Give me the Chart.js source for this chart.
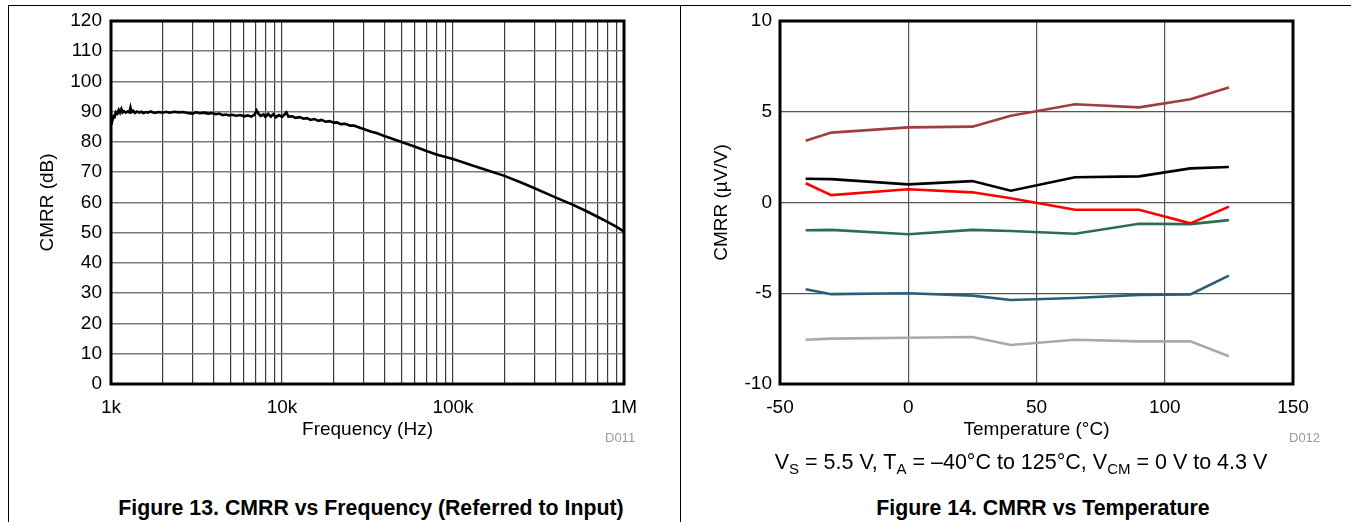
<!DOCTYPE html>
<html>
<head>
<meta charset="utf-8">
<script src="https://cdn.jsdelivr.net/npm/chart.js@4.4.1/dist/chart.umd.min.js"></script>
<style>
  html,body{margin:0;padding:0;background:#fff;}
  body{width:1351px;height:522px;position:relative;overflow:hidden;font-family:"Liberation Sans",Arial,sans-serif;}
  canvas{position:absolute;top:0;}
  .line{position:absolute;background:#000;}
  .txt{position:absolute;white-space:nowrap;color:#000;line-height:1;}
  .code{font-size:13px;color:#9a9a9a;}
  .cap{font-size:21.3px;font-weight:bold;transform:translateX(-50%);}
  .cond{font-size:21.5px;transform:translateX(-50%);}
  sub{font-size:15px;vertical-align:-5px;line-height:0;}
</style>
</head>
<body>
<div class="line" style="left:8px;top:5px;width:1343px;height:1px;"></div>
<div class="line" style="left:8px;top:5px;width:1px;height:517px;"></div>
<div class="line" style="left:680px;top:5px;width:1px;height:517px;"></div>

<canvas id="c1" width="680" height="450" style="left:0px;width:680px;height:450px;"></canvas>
<canvas id="c2" width="671" height="450" style="left:680px;width:671px;height:450px;"></canvas>

<div class="txt code" style="left:605px;top:431px;">D011</div>
<div class="txt code" style="left:1289px;top:431px;">D012</div>
<div class="txt cond" style="left:1021px;top:452px;">V<sub>S</sub> = 5.5 V, T<sub>A</sub> = –40°C to 125°C, V<sub>CM</sub> = 0 V to 4.3 V</div>
<div class="txt cap" style="left:371px;top:498px;">Figure 13. CMRR vs Frequency (Referred to Input)</div>
<div class="txt cap" style="left:1043px;top:498px;">Figure 14. CMRR vs Temperature</div>

<script>
// ---------- Figure 13 data ----------
const freqHz = [1000,1010,1020,1035,1050,1070,1090,1110,1130,1150,1170,1190,1220,1250,1280,1300,1320,1350,1380,1420,1460,1500,1550,1600,1650,1700,1800,1900,2000,2100,2200,2350,2500,2650,2800,3000,3150,3300,3500,3700,3900,4100,4300,4500,4700,4900,5100,5400,5700,6000,6300,6600,6900,7100,7300,7500,7800,8000,8300,8600,8900,9200,9600,10000,10300,10600,10900,11500,12000,12700,13400,14000,14700,15500,16300,17000,18000,19000,20000,21000,22000,23500,25000,26500,28000,30000,33000,36000,40000,45000,50000,60000,70000,80000,100000,130000,160000,200000,250000,300000,400000,500000,600000,700000,800000,900000,1000000];
const cmrrDb = [86.2,87.5,87.2,88.6,88.3,89.9,89.4,90.6,89.7,90.9,89.8,90.2,89.7,90.1,89.8,91.4,89.9,90.3,89.6,90.1,89.7,90.0,89.6,89.9,89.7,90.1,89.6,89.9,89.7,90.0,89.7,90.0,89.8,89.9,89.6,89.4,89.8,89.5,89.7,89.4,89.6,89.2,89.4,88.9,89.1,88.8,89.0,88.7,88.9,88.5,88.8,88.4,89.0,90.5,89.3,88.6,89.1,88.3,89.3,88.4,89.2,88.2,88.9,88.3,89.0,89.8,88.4,88.5,88.0,88.2,87.7,87.9,87.3,87.6,87.0,87.3,86.7,86.9,86.4,86.5,85.9,86.0,85.4,85.4,84.9,84.3,83.5,82.9,81.9,80.9,80.0,78.4,77.0,75.9,74.4,72.2,70.6,68.8,66.6,64.7,61.6,59.3,57.2,55.3,53.6,52.0,50.4];
const freqTickValues = [1000,10000,100000,1000000];
const freqTickLabels = ['1k','10k','100k','1M'];

// ---------- Figure 14 data ----------
const tempC = [-40,-30,0,25,40,65,90,110,125];
const seriesBrown = [3.40,3.85,4.14,4.18,4.78,5.41,5.24,5.69,6.33];
const seriesBlack = [1.31,1.29,1.00,1.18,0.65,1.39,1.44,1.88,1.96];
const seriesRed   = [1.06,0.41,0.73,0.56,0.23,-0.40,-0.40,-1.15,-0.23];
const seriesGreen = [-1.53,-1.51,-1.75,-1.51,-1.57,-1.72,-1.17,-1.19,-0.97];
const seriesBlue  = [-4.78,-5.05,-5.00,-5.13,-5.37,-5.26,-5.09,-5.07,-4.03];
const seriesGray  = [-7.56,-7.50,-7.45,-7.41,-7.85,-7.56,-7.65,-7.65,-8.47];

const FONT = {family:'"Liberation Sans", Arial, sans-serif', size:19};

const frame = {
  id:'frame',
  afterDraw(chart){
    const {ctx, chartArea:a} = chart;
    ctx.save();
    ctx.strokeStyle = '#000';
    ctx.lineWidth = 3;
    ctx.strokeRect(a.left, a.top, a.right - a.left, a.bottom - a.top);
    ctx.restore();
  }
};

// gridline positions for the log axis: multiples 1..9 of each decade
function logGrid(min, max){
  const out = [];
  for (let d = min; d < max; d *= 10) for (let m = 1; m < 10; m++) out.push(d*m);
  out.push(max);
  return out;
}

new Chart(document.getElementById('c1'), {
  type:'scatter',
  data:{datasets:[{
    data: freqHz.map((f,i)=>({x:f, y:cmrrDb[i]})),
    showLine:true, borderColor:'#000', borderWidth:2.6, pointRadius:0, tension:0, fill:false
  }]},
  options:{
    responsive:false, animation:false, devicePixelRatio:1,
    layout:{padding:{left:0, top:21, right:56, bottom:0}},
    plugins:{legend:{display:false}, tooltip:{enabled:false}},
    scales:{
      x:{
        type:'logarithmic', min:1000, max:1000000,
        afterBuildTicks(s){ s.ticks = logGrid(1000,1000000).map(v=>({value:v})); },
        afterFit(s){ s.height = 66; },
        ticks:{autoSkip:false, maxRotation:0, padding:12, color:'#000', font:FONT,
          callback(v){ const i = freqTickValues.indexOf(v); return i >= 0 ? freqTickLabels[i] : ''; }},
        grid:{color:'#3a3a3a', lineWidth:1.2, drawTicks:false},
        border:{display:false},
        title:{display:true, text:'Frequency (Hz)', color:'#000', font:FONT, padding:{top:0,bottom:9}}
      },
      y:{
        min:0, max:120,
        afterFit(s){ s.width = 111; },
        ticks:{stepSize:10, padding:9, color:'#000', font:FONT},
        grid:{color:'#7a7a7a', lineWidth:1.6, drawTicks:false},
        border:{display:false},
        title:{display:true, text:'CMRR (dB)', color:'#000', font:FONT, padding:{top:36,bottom:0}}
      }
    }
  },
  plugins:[frame]
});

const mk = (vals, color) => ({
  data: tempC.map((t,i)=>({x:t, y:vals[i]})),
  showLine:true, borderColor:color, borderWidth:2.6, pointRadius:0, tension:0, fill:false
});

new Chart(document.getElementById('c2'), {
  type:'scatter',
  data:{datasets:[
    mk(seriesBrown,'#a23d3f'),
    mk(seriesBlack,'#000000'),
    mk(seriesRed,'#ff0000'),
    mk(seriesGreen,'#2b6e4c'),
    mk(seriesBlue,'#2c5e79'),
    mk(seriesGray,'#a9a9a9')
  ]},
  options:{
    responsive:false, animation:false, devicePixelRatio:1,
    layout:{padding:{left:0, top:21, right:58, bottom:0}},
    plugins:{legend:{display:false}, tooltip:{enabled:false}},
    scales:{
      x:{
        type:'linear', min:-50, max:150,
        afterFit(s){ s.height = 66; },
        ticks:{stepSize:50, autoSkip:false, maxRotation:0, padding:12, color:'#000', font:FONT},
        grid:{color:'#555', lineWidth:1.2, drawTicks:false},
        border:{display:false},
        title:{display:true, text:'Temperature (°C)', color:'#000', font:FONT, padding:{top:0,bottom:9}}
      },
      y:{
        min:-10, max:10,
        afterFit(s){ s.width = 100; },
        ticks:{stepSize:5, padding:8, color:'#000', font:FONT},
        grid:{color:'#555', lineWidth:1.2, drawTicks:false},
        border:{display:false},
        title:{display:true, text:'CMRR (µV/V)', color:'#000', font:FONT, padding:{top:30,bottom:0}}
      }
    }
  },
  plugins:[frame]
});
</script>
</body>
</html>
